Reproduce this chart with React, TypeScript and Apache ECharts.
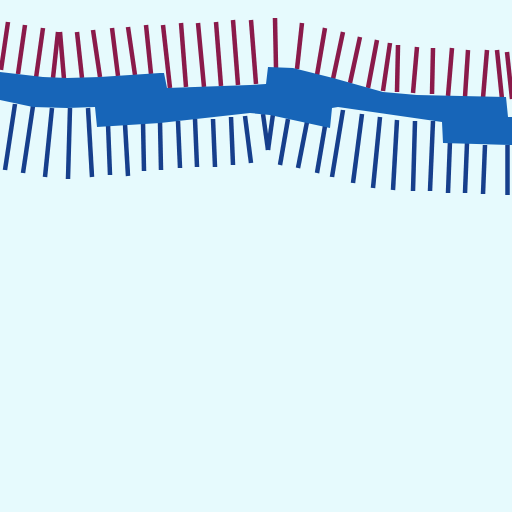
import React, { useEffect, useRef } from "react";
import * as echarts from "echarts";

// red strokes above the band: upper end, lower end (pixel-like units, y down)
const redTops: number[][] = [
  [8, 22], [25, 25], [43, 28], [58, 32], [60, 32], [77, 32], [93, 30], [112, 28],
  [128, 27], [146, 25], [163, 25], [181, 23], [198, 23], [216, 22], [233, 20],
  [251, 20], [275, 18], [302, 23], [325, 28], [343, 32], [360, 37], [377, 40],
  [390, 43], [398, 45], [417, 47], [433, 48], [452, 48], [468, 50], [487, 50],
  [497, 50], [507, 52],
];
const redFoots: number[][] = [
  [1, 70], [18, 74], [36, 78], [53, 78], [64, 79], [82, 78], [100, 77], [118, 76],
  [135, 75], [151, 74], [170, 88], [186, 87], [204, 87], [221, 86], [238, 85],
  [256, 84], [276, 68], [297, 69], [317, 75], [333, 79], [350, 83], [368, 88],
  [383, 91], [397, 92], [413, 93], [432, 94], [448, 96], [465, 97], [483, 98],
  [502, 99], [512, 99],
];

// blue strokes below the band: upper end, lower end
const blueTops: number[][] = [
  [15, 104], [33, 106], [52, 108], [70, 108], [88, 108], [108, 124], [125, 124],
  [143, 122], [160, 122], [178, 121], [195, 119], [213, 119], [231, 117], [245, 116],
  [263, 114], [273, 114], [288, 119], [307, 122], [325, 126], [343, 110], [362, 114],
  [380, 117], [397, 120], [415, 121], [433, 121], [450, 141], [467, 143], [485, 145],
  [507, 145],
];
const blueFoots: number[][] = [
  [5, 170], [23, 173], [45, 177], [68, 179], [92, 177], [110, 175], [128, 176],
  [144, 171], [161, 170], [180, 168], [197, 167], [215, 167], [233, 165], [251, 163],
  [268, 150], [268, 150], [280, 165], [298, 168], [317, 173], [332, 177], [353, 183],
  [373, 188], [393, 190], [413, 191], [430, 191], [448, 193], [465, 193], [483, 194],
  [507, 195],
];

// thick band outline: top edge left→right, then bottom edge right→left
const bandTop: number[][] = [
  [0, 72], [43, 77], [67, 78], [100, 77], [160, 73], [164, 73], [167, 88],
  [250, 85], [266, 84], [268, 67], [293, 68], [333, 78], [383, 92], [417, 95],
  [506, 97], [508, 117], [512, 117],
];
const bandBottom: number[][] = [
  [512, 145], [443, 143], [442, 122], [338, 107], [332, 108], [330, 128],
  [270, 115], [250, 113], [160, 123], [97, 127], [95, 107], [67, 108],
  [33, 107], [0, 100],
];

const BG = "#e6fafd";
const RED = "#8a1a4a";
const DARK_BLUE = "#163f8c";
const BAND = "#1765b8";

const App: React.FC = () => {
  const chartRef = useRef<HTMLDivElement | null>(null);

  useEffect(() => {
    if (!chartRef.current) return;
    const chart = echarts.init(chartRef.current, undefined, { renderer: "svg" });
    const outline = [...bandTop, ...bandBottom];

    const option: any = {
      animation: false,
      backgroundColor: BG,
      grid: { left: 0, right: 0, top: 0, bottom: 0, containLabel: false },
      xAxis: { type: "value", min: 0, max: 512, show: false },
      yAxis: { type: "value", min: 0, max: 512, inverse: true, show: false },
      series: [
        {
          type: "lines",
          coordinateSystem: "cartesian2d",
          z: 2,
          data: redTops.map((p, i) => ({ coords: [p, redFoots[i]] })),
          lineStyle: { color: RED, width: 4.5, opacity: 1, curveness: 0 },
        },
        {
          type: "lines",
          coordinateSystem: "cartesian2d",
          z: 2,
          data: blueTops.map((p, i) => ({ coords: [p, blueFoots[i]] })),
          lineStyle: { color: DARK_BLUE, width: 4.5, opacity: 1, curveness: 0 },
        },
        {
          type: "custom",
          z: 3,
          data: outline,
          encode: { x: 0, y: 1 },
          renderItem: (params: any, api: any) => {
            if (params.dataIndex !== 0) return null;
            return {
              type: "polygon",
              shape: { points: outline.map((p) => api.coord(p)) },
              style: { fill: BAND, stroke: null },
            };
          },
        },
      ],
    };

    chart.setOption(option);
    return () => chart.dispose();
  }, []);

  return (
    <div
      ref={chartRef}
      style={{ position: "fixed", left: 0, top: 0, width: 512, height: 512 }}
    />
  );
};

export default App;
